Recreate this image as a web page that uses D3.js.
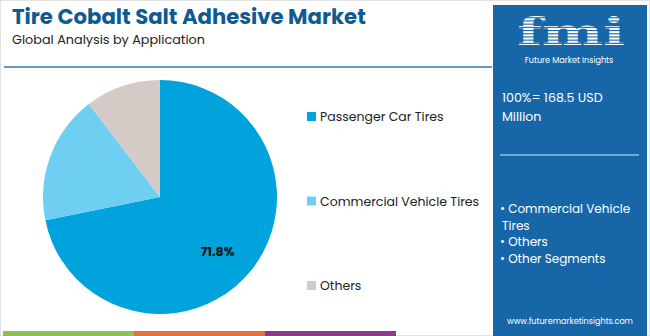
<!DOCTYPE html>
<html><head><meta charset="utf-8">
<script src="https://cdn.jsdelivr.net/npm/d3@7"></script>
<style>body{margin:0;background:#fff}svg{display:block}</style>
</head><body><svg id="c" width="650" height="336"></svg>
<script>
const categories = ["Passenger Car Tires", "Commercial Vehicle Tires", "Others"];
const shares = [71.8, 17.8, 10.4];
const colors = ["#00a3dc", "#6fcff3", "#d5cbc6"];
const title = "Tire Cobalt Salt Adhesive Market";
const subtitle = "Global Analysis by Application";
const totalLines = ["100%= 168.5 USD", "Million"];
const bulletLines = ["• Commercial Vehicle", "Tires", "• Others", "• Other Segments"];
const stripeColors = ["#8dc153", "#e4703b", "#8b3a8e"];

const svg = d3.select("#c");
const F = "Poppins, 'Open Sans', sans-serif";

svg.append("rect").attr("x",0.5).attr("y",0.5).attr("width",649).attr("height",335)
  .attr("fill","#fff").attr("stroke","#e3e3e3");

svg.append("text").attr("x",12).attr("y",24).text(title)
  .attr("font-family",F).attr("font-weight",700).attr("font-size",21.2).attr("fill","#0e5b91");
svg.append("text").attr("x",12).attr("y",44).text(subtitle)
  .attr("font-family",F).attr("font-size",12.8).attr("fill","#222");
svg.append("line").attr("x1",4).attr("x2",492).attr("y1",67).attr("y2",67)
  .attr("stroke","#5e9cc6").attr("stroke-width",2);

const sx = d3.scaleBand().domain(d3.range(3)).range([3,396]);
svg.selectAll("rect.stripe").data(stripeColors).join("rect").attr("class","stripe")
  .attr("x",(d,i)=>sx(i)).attr("y",331).attr("width",sx.bandwidth()).attr("height",5).attr("fill",d=>d);

svg.append("rect").attr("x",493).attr("y",5).attr("width",154).attr("height",331).attr("fill","#1767a8");
const lg = svg.append("g");
lg.append("text").attr("x",517).attr("y",45).text("fmi")
  .attr("textLength",108).attr("lengthAdjust","spacingAndGlyphs")
  .attr("font-family","'DejaVu Serif', serif").attr("font-weight",700).attr("font-size",38).attr("fill","#fff");
for (let y=14; y<46; y+=3.2) lg.append("rect").attr("x",512).attr("y",y).attr("width",118).attr("height",1.1).attr("fill","#1767a8");
lg.append("text").attr("x",569).attr("y",63).attr("text-anchor","middle").text("Future Market Insights")
  .attr("font-family",F).attr("font-size",8.1).attr("fill","#fff");

svg.selectAll("text.tot").data(totalLines).join("text").attr("class","tot")
  .attr("x",502).attr("y",(d,i)=>102+i*19).text(d=>d)
  .attr("font-family",F).attr("font-size",12.6).attr("fill","#fff");
svg.append("line").attr("x1",500).attr("x2",639).attr("y1",155).attr("y2",155)
  .attr("stroke","#8fbfe2").attr("stroke-width",1.5);
svg.selectAll("text.bul").data(bulletLines).join("text").attr("class","bul")
  .attr("x",(d,i)=>i===1?502:500).attr("y",(d,i)=>213+i*16.7).text(d=>d)
  .attr("font-family",F).attr("font-size",12).attr("fill","#fff");
svg.append("text").attr("x",570).attr("y",324).attr("text-anchor","middle").text("www.futuremarketinsights.com")
  .attr("font-family",F).attr("font-size",8.1).attr("fill","#fff");

const cx = 160, cy = 197, R = 117;
const pie = d3.pie().sort(null).value(d=>d)(shares);
const arc = d3.arc().innerRadius(0).outerRadius(R);
const pg = svg.append("g").attr("transform",`translate(${cx},${cy})`);
pg.selectAll("path").data(pie).join("path").attr("d",arc).attr("fill",(d,i)=>colors[i]);
const la = d3.arc().innerRadius(R*0.68).outerRadius(R*0.68);
const p0 = la.centroid(pie[0]);
pg.append("text").attr("x",p0[0]-4).attr("y",p0[1]+4).attr("dy","0.35em").attr("text-anchor","middle")
  .text(d3.format(".1f")(shares[0])+"%")
  .attr("font-family",F).attr("font-weight",700).attr("font-size",12.5).attr("fill","#111");

const ly = d3.scalePoint().domain(categories).range([116,285]);
const leg = svg.selectAll("g.leg").data(categories).join("g").attr("class","leg")
  .attr("transform",d=>`translate(307,${ly(d)})`);
leg.append("rect").attr("x",0).attr("y",-4).attr("width",9).attr("height",9).attr("fill",(d,i)=>colors[i]);
leg.append("text").attr("x",13).attr("y",5).text(d=>d)
  .attr("font-family",F).attr("font-size",12.5).attr("fill","#222");
</script></body></html>
